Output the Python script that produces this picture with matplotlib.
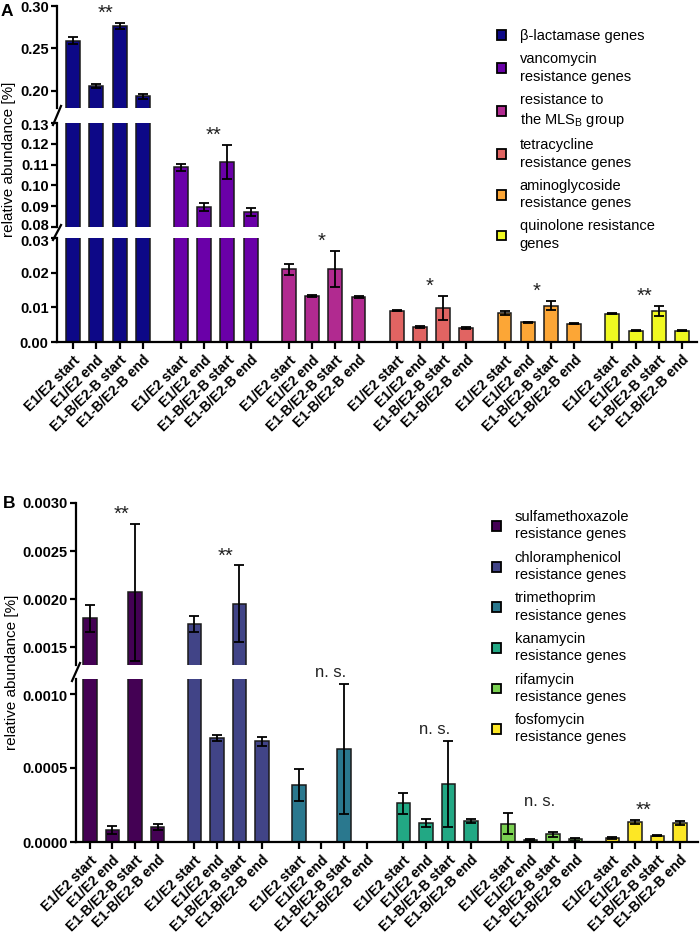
import numpy as np
import matplotlib
matplotlib.use('Agg')
import matplotlib.pyplot as plt
from matplotlib.patches import Patch
from matplotlib.lines import Line2D
from matplotlib.transforms import ScaledTranslation

plt.rcParams['font.family'] = ['Liberation Sans', 'DejaVu Sans']
plt.rcParams['mathtext.fontset'] = 'custom'
plt.rcParams['mathtext.rm'] = 'Liberation Sans'
plt.rcParams['mathtext.it'] = 'Liberation Sans:italic'

samples = ['E1/E2 start', 'E1/E2 end', 'E1-B/E2-B start', 'E1-B/E2-B end']

# panel A
groups_a = ['β-lactamase genes', 'vancomycin\nresistance genes',
            'resistance to\nthe MLS$_\\mathrm{B}$ group', 'tetracycline\nresistance genes',
            'aminoglycoside\nresistance genes', 'quinolone resistance\ngenes']
values_a = [[0.259, 0.206, 0.277, 0.194],
            [0.1088, 0.0896, 0.1112, 0.0872],
            [0.0210, 0.0134, 0.0211, 0.0129],
            [0.0090, 0.0042, 0.0098, 0.0041],
            [0.0083, 0.0057, 0.0105, 0.0053],
            [0.0082, 0.0033, 0.0090, 0.0033]]
errors_a = [[0.004, 0.002, 0.0035, 0.003],
            [0.0017, 0.002, 0.0083, 0.002],
            [0.0016, 0.0003, 0.0051, 0.0003],
            [0.0002, 0.0003, 0.0035, 0.0003],
            [0.0006, 0.0002, 0.0013, 0.0002],
            [0.0002, 0.0002, 0.0015, 0.0002]]
sig_a = ['**', '**', '*', '*', '*', '**']

# panel B
groups_b = ['sulfamethoxazole\nresistance genes', 'chloramphenicol\nresistance genes',
            'trimethoprim\nresistance genes', 'kanamycin\nresistance genes',
            'rifamycin\nresistance genes', 'fosfomycin\nresistance genes']
values_b = [[0.00180, 0.00008, 0.00207, 0.00010],
            [0.00174, 0.00070, 0.00195, 0.00068],
            [0.000385, 0.0, 0.000628, 0.0],
            [0.00026, 0.000126, 0.00039, 0.000142],
            [0.000124, 0.0000135, 0.000052, 0.00002],
            [0.000029, 0.000135, 0.000043, 0.000126]]
errors_b = [[0.00014, 0.000027, 0.00071, 0.00002],
            [0.00008, 0.00002, 0.0004, 0.00003],
            [0.00011, 0.0, 0.00044, 0.0],
            [0.00007, 0.000027, 0.00029, 0.000015],
            [0.00007, 0.000005, 0.000015, 0.00001],
            [0.000006, 0.000015, 0.000005, 0.000013]]
sig_b = ['**', '**', 'n. s.', 'n. s.', 'n. s.', '**']

colors_a = [plt.cm.plasma(v) for v in np.linspace(0, 1, 6)]
colors_b = [plt.cm.viridis(v) for v in np.linspace(0, 1, 6)]

W, H = 700, 933
fig = plt.figure(figsize=(7, 9.33), dpi=100)


def px_axes(left, right, top, bottom):
    return fig.add_axes([left / W, 1 - bottom / H, (right - left) / W, (bottom - top) / H])


def nudge(label, dy_px):
    label.set_transform(label.get_transform() + ScaledTranslation(0, dy_px / 100, fig.dpi_scale_trans))


def draw_panel(segments, left, right, xlim, values, errors, colors, sig, fmt, ticks_list):
    stride = 4.64
    axes = []
    for k, (top, bottom, ylim) in enumerate(segments):
        ax = px_axes(left, right, top, bottom)
        axes.append(ax)
        for g in range(len(values)):
            x = g * stride + np.arange(4)
            ax.bar(x, values[g], width=0.6, color=colors[g], edgecolor='#1a1a1a', linewidth=1.1)
            ax.errorbar(x, values[g], yerr=errors[g], fmt='none', ecolor='black',
                        elinewidth=1.3, capsize=3.5, capthick=1.3)
        ax.set_xlim(*xlim)
        ax.set_ylim(*ylim)
        ax.set_yticks(ticks_list[k])
        ax.set_yticklabels([fmt % t for t in ticks_list[k]], fontweight='bold', fontsize=10.5)
        for s in ['top', 'right']:
            ax.spines[s].set_visible(False)
        ax.spines['left'].set_linewidth(1.6)
        ax.spines['bottom'].set_linewidth(1.6)
        ax.tick_params(axis='y', width=1.6, length=4, pad=2)
        if k < len(segments) - 1:
            ax.spines['bottom'].set_visible(False)
            ax.tick_params(axis='x', bottom=False, labelbottom=False)
        else:
            xt = [g * stride + i for g in range(len(values)) for i in range(4)]
            ax.set_xticks(xt)
            ax.set_xticklabels(samples * len(values), rotation=45, ha='right',
                               rotation_mode='anchor', fontweight='bold', fontsize=10)
            ax.tick_params(axis='x', width=1.6, length=5, pad=3)
    # keep neighbouring break labels apart
    for k in range(len(axes) - 1):
        nudge(axes[k].get_yticklabels()[0], 2 if axes[k].get_yticks()[0] == axes[k].get_ylim()[0] else 0)
        nudge(axes[k + 1].get_yticklabels()[-1], -2)
    # significance labels
    for g in range(len(values)):
        top_val = max(v + e for v, e in zip(values[g], errors[g]))
        for ax in axes:
            lo, hi = ax.get_ylim()
            if lo <= top_val <= hi + (hi - lo) * 0.05:
                is_star = '*' in sig[g]
                ax.annotate(sig[g], xy=(g * stride + 1.4, top_val), xytext=(0, 0 if is_star else 3),
                            textcoords='offset points', ha='center', va='bottom',
                            fontsize=14.5 if is_star else 12, color='#222222',
                            annotation_clip=False)
                break
    return axes


segs_a = [(6, 108, (0.18, 0.30)), (123, 227, (0.08, 0.13)), (238, 342, (0.0, 0.03))]
ticks_a = [[0.20, 0.25, 0.30], [0.08, 0.09, 0.10, 0.11, 0.12, 0.13], [0.0, 0.01, 0.02, 0.03]]
draw_panel(segs_a, 57, 697, (-0.69, 26.84), values_a, errors_a, colors_a, sig_a, '%.2f', ticks_a)

segs_b = [(503, 665, (0.001314, 0.0030)), (679, 842, (0.0, 0.0011))]
ticks_b = [[0.0015, 0.0020, 0.0025, 0.0030], [0.0, 0.0005, 0.0010]]
draw_panel(segs_b, 76, 698, (-0.62, 27.0), values_b, errors_b, colors_b, sig_b, '%.4f', ticks_b)

# axis break marks
for x, y1, y2 in [(57, 108, 123), (57, 227, 238), (76, 665, 679)]:
    fig.add_artist(Line2D([(x - 4) / W, (x + 4) / W], [1 - (y2 + 2) / H, 1 - (y1 - 2) / H],
                          color='black', lw=1.6))

# y labels and panel letters
fig.text(9 / W, 1 - 159 / H, 'relative abundance [%]', rotation=90, ha='center', va='center', fontsize=11)
fig.text(12 / W, 1 - 672 / H, 'relative abundance [%]', rotation=90, ha='center', va='center', fontsize=11)
fig.text(1 / W, 1 - 12 / H, 'A', fontweight='bold', fontsize=12.5, va='center')
fig.text(3 / W, 1 - 503 / H, 'B', fontweight='bold', fontsize=12.5, va='center')

# legends
for groups, colors, anchor in [(groups_a, colors_a, (497, 29)), (groups_b, colors_b, (492, 510))]:
    handles = [Patch(facecolor=c, edgecolor='black', linewidth=1.3) for c in colors]
    leg = fig.legend(handles, groups, loc='upper left',
                     bbox_to_anchor=(anchor[0] / W, 1 - anchor[1] / H),
                     frameon=False, fontsize=10.5, handlelength=0.65, handleheight=0.65,
                     handletextpad=0.9, labelspacing=0.64, borderpad=0, borderaxespad=0)
    for t in leg.get_texts():
        t.set_linespacing(1.3)

fig.savefig('out.png', dpi=100)
